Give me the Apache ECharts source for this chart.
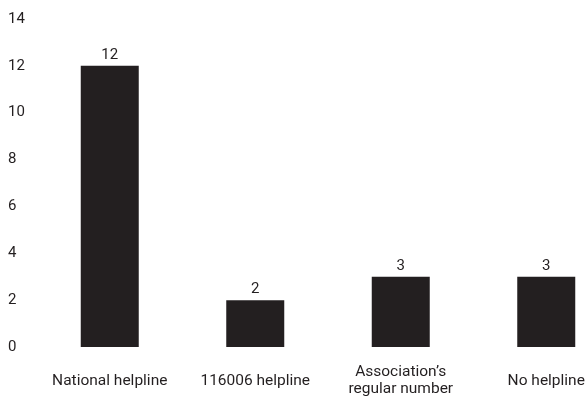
<!DOCTYPE html>
<html lang="en">
<head>
    <meta charset="utf-8">
    <title>Helplines</title>
    <script src="https://cdn.jsdelivr.net/npm/echarts@6/dist/echarts.min.js"></script>
</head>
<body style="margin:0; overflow:hidden">
<!-- last category is cut by the right edge in the original, so the chart is wider than the window -->
<div id="main" style="width: 619px; height: 407px;"></div>
<script type="text/javascript">
    var categories = ['National helpline', '116006 helpline', 'Association\u2019s\nregular number', 'No helpline'];
    var values = [12, 2, 3, 3];
    var yTicks = [0, 14, 2]; // min, max, step

    var myChart = echarts.init(document.getElementById('main'));
    var font = 'Roboto';
    var ink = '#231f20';
    var option = {
        animation: false,
        grid: {
            left: 37,
            right: 0,
            top: 19,
            bottom: 60
        },
        xAxis: {
            type: 'category',
            data: categories,
            axisLine: { show: false },
            axisTick: { show: false },
            axisLabel: {
                interval: 0,
                margin: 34,
                verticalAlign: 'middle',
                color: ink,
                fontFamily: font,
                fontSize: 15.5,
                lineHeight: 17
            }
        },
        yAxis: {
            type: 'value',
            min: yTicks[0],
            max: yTicks[1],
            interval: yTicks[2],
            splitLine: { show: false },
            axisLine: { show: false },
            axisTick: { show: false },
            axisLabel: {
                align: 'left',
                margin: 29,
                color: ink,
                fontFamily: font,
                fontSize: 15
            }
        },
        series: [{
            type: 'bar',
            data: values,
            barWidth: 58,
            itemStyle: { color: ink },
            label: {
                show: true,
                position: 'top',
                distance: 3,
                color: ink,
                fontFamily: font,
                fontSize: 15
            }
        }]
    };
    myChart.setOption(option);
</script>
</body>
</html>
